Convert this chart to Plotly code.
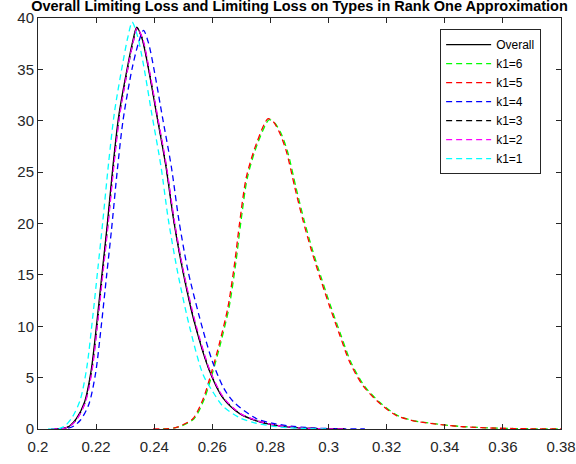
import plotly.graph_objects as go

# ---- data ----
overall_x = [0.2046, 0.2085, 0.2109, 0.2132, 0.2160, 0.2183, 0.2203, 0.2221, 0.2238, 0.2258, 0.2278, 0.2309, 0.2325, 0.2340,
             0.2358, 0.2378, 0.2409, 0.2440, 0.2467, 0.2499, 0.2540, 0.2591, 0.2637, 0.2694, 0.2752, 0.2820, 0.2900, 0.2980, 0.3050]
overall_y = [0.0, 0.05, 0.3, 1.0, 2.6, 5.7, 10.5, 15.3, 19.8, 25.6, 30.5, 35.4, 37.6, 39.1,
             38.0, 35.4, 30.5, 25.6, 20.3, 15.3, 10.2, 5.6, 3.0, 1.5, 0.8, 0.35, 0.1, 0.03, 0.0]

k6_x = [0.2430, 0.2470, 0.2494, 0.2537, 0.2572, 0.2601, 0.2629, 0.2658, 0.2681, 0.2698, 0.2721, 0.2756, 0.2796, 0.2814,
        0.2836, 0.2859, 0.2888, 0.2916, 0.2945, 0.2974, 0.3008, 0.3043, 0.3077, 0.3123, 0.3180, 0.3238, 0.3295, 0.3353,
        0.3398, 0.3467, 0.3582, 0.3700, 0.3800]
k6_y = [0.0, 0.1, 0.3, 1.0, 2.9, 5.5, 8.4, 11.9, 16.2, 20.1, 24.5, 27.8, 30.1, 29.8,
        28.8, 27.0, 23.5, 20.3, 17.4, 14.8, 11.9, 9.1, 6.5, 4.2, 2.5, 1.3, 0.8, 0.55,
        0.4, 0.22, 0.08, 0.02, 0.0]

k5_x = [0.2396, 0.2440, 0.2470, 0.2490, 0.2533, 0.2568, 0.2597, 0.2625, 0.2654, 0.2677, 0.2694, 0.2717, 0.2752, 0.2792,
        0.2810, 0.2832, 0.2855, 0.2884, 0.2912, 0.2941, 0.2970, 0.3004, 0.3039, 0.3073, 0.3119, 0.3176, 0.3234, 0.3291,
        0.3349, 0.3394, 0.3463, 0.3578, 0.3700, 0.3800]
k5_y = [0.0, 0.02, 0.1, 0.3, 1.0, 2.9, 5.5, 8.4, 11.9, 16.2, 20.1, 24.5, 27.8, 30.2,
        29.9, 28.8, 27.0, 23.5, 20.3, 17.4, 14.8, 11.9, 9.1, 6.5, 4.2, 2.5, 1.3, 0.8,
        0.55, 0.4, 0.22, 0.08, 0.02, 0.0]

k4_x = [0.2070, 0.2100, 0.2124, 0.2147, 0.2175, 0.2198, 0.2218, 0.2236, 0.2253, 0.2273, 0.2293, 0.2324, 0.2345, 0.2363,
        0.2380, 0.2398, 0.2428, 0.2459, 0.2485, 0.2517, 0.2568, 0.2600, 0.2637, 0.2671, 0.2752, 0.2809, 0.2880, 0.2960,
        0.3040, 0.3125]
k4_y = [0.0, 0.05, 0.3, 0.9, 2.4, 5.4, 10.1, 14.9, 19.4, 25.2, 30.1, 35.1, 37.5, 38.8,
        37.6, 35.2, 30.4, 25.5, 20.3, 15.3, 9.6, 6.6, 4.1, 2.7, 1.0, 0.55, 0.25, 0.08,
        0.02, 0.0]

k3_x = [0.2050, 0.2088, 0.2111, 0.2134, 0.2162, 0.2185, 0.2205, 0.2223, 0.2240, 0.2260, 0.2280, 0.2311, 0.2327, 0.2341,
        0.2359, 0.2379, 0.2410, 0.2441, 0.2468, 0.2500, 0.2541, 0.2592, 0.2638, 0.2695, 0.2753, 0.2821, 0.2900, 0.2980, 0.3060]
k3_y = [0.0, 0.05, 0.3, 1.0, 2.6, 5.7, 10.5, 15.3, 19.8, 25.6, 30.5, 35.4, 37.6, 39.0,
        38.0, 35.4, 30.5, 25.6, 20.3, 15.3, 10.2, 5.6, 3.0, 1.5, 0.8, 0.35, 0.1, 0.03, 0.0]

k2_x = [0.2046, 0.2087, 0.2111, 0.2135, 0.2163, 0.2186, 0.2206, 0.2224, 0.2241, 0.2261, 0.2281, 0.2311, 0.2327, 0.2341,
        0.2360, 0.2380, 0.2411, 0.2442, 0.2469, 0.2501, 0.2543, 0.2593, 0.2640, 0.2697, 0.2755, 0.2823, 0.2900, 0.2980, 0.3050]
k2_y = [0.0, 0.05, 0.3, 1.0, 2.6, 5.7, 10.5, 15.3, 19.8, 25.6, 30.5, 35.4, 37.6, 39.0,
        38.0, 35.4, 30.5, 25.6, 20.3, 15.3, 10.2, 5.6, 3.0, 1.5, 0.8, 0.35, 0.1, 0.03, 0.0]

k1_x = [0.2035, 0.2075, 0.2095, 0.2117, 0.2145, 0.2168, 0.2188, 0.2206, 0.2223, 0.2243, 0.2263, 0.2293, 0.2309, 0.2324,
        0.2342, 0.2362, 0.2392, 0.2423, 0.2449, 0.2481, 0.2522, 0.2568, 0.2600, 0.2637, 0.2694, 0.2752, 0.2832, 0.2920, 0.3004]
k1_y = [0.0, 0.05, 0.35, 1.1, 2.8, 6.0, 10.8, 15.6, 20.2, 25.9, 30.8, 35.8, 38.1, 39.6,
        38.3, 35.6, 30.6, 25.6, 20.3, 15.2, 9.9, 5.3, 3.7, 2.2, 1.1, 0.55, 0.2, 0.05, 0.0]

x_ticks = [0.2, 0.22, 0.24, 0.26, 0.28, 0.3, 0.32, 0.34, 0.36, 0.38]
x_tick_labels = ["0.2", "0.22", "0.24", "0.26", "0.28", "0.3", "0.32", "0.34", "0.36", "0.38"]
y_ticks = [0, 5, 10, 15, 20, 25, 30, 35, 40]
y_tick_labels = ["0", "5", "10", "15", "20", "25", "30", "35", "40"]

title_text = "Overall Limiting Loss and Limiting Loss on Types in Rank One Approximation"

series = [
    ("Overall", overall_x, overall_y, "#000000", "solid"),
    ("k1=6", k6_x, k6_y, "#00ff00", "6px,4px"),
    ("k1=5", k5_x, k5_y, "#ff0000", "6px,4px"),
    ("k1=4", k4_x, k4_y, "#0000ff", "6px,4px"),
    ("k1=3", k3_x, k3_y, "#000000", "6px,4px"),
    ("k1=2", k2_x, k2_y, "#ff00ff", "6px,4px"),
    ("k1=1", k1_x, k1_y, "#00ffff", "6px,4px"),
]

fig = go.Figure()
for name, xs, ys, color, dash in series:
    fig.add_trace(go.Scatter(
        x=xs, y=ys, name=name, mode="lines",
        line=dict(color=color, width=1.3, dash=dash, shape="spline", smoothing=0.8),
    ))

FONT = "Liberation Sans, Arial, sans-serif"
axis_color = "#262626"

fig.update_layout(
    width=576, height=464,
    margin=dict(l=38, r=15, t=18, b=35, autoexpand=False),
    paper_bgcolor="white", plot_bgcolor="white",
    font=dict(family=FONT, size=15, color=axis_color),
    title=dict(text="<b>" + title_text + "</b>", x=(38 + 561) / 2 / 576, xanchor="center",
               y=1 - 6 / 464, yanchor="middle", font=dict(size=14.5, color="#000000"),
               automargin=False),
    showlegend=True,
    legend=dict(
        x=0.962, xanchor="right", y=0.973, yanchor="top",
        bgcolor="white", bordercolor=axis_color, borderwidth=1,
        font=dict(size=12, color="#000000"), tracegroupgap=0, itemwidth=45,
    ),
)
fig.update_xaxes(
    range=[0.2, 0.38], tickvals=x_ticks, ticktext=x_tick_labels, automargin=False,
    showgrid=False, zeroline=False, showline=True, linecolor=axis_color, linewidth=1,
    mirror="ticks", ticks="inside", ticklen=5, tickcolor=axis_color, ticklabelstandoff=4,
)
fig.update_yaxes(
    range=[0, 40], tickvals=y_ticks, ticktext=y_tick_labels, automargin=False,
    showgrid=False, zeroline=False, showline=True, linecolor=axis_color, linewidth=1,
    mirror="ticks", ticks="inside", ticklen=5, tickcolor=axis_color,
)

fig.write_html("out.html", config={"displayModeBar": False},
               post_script="document.body.style.margin='0';")
